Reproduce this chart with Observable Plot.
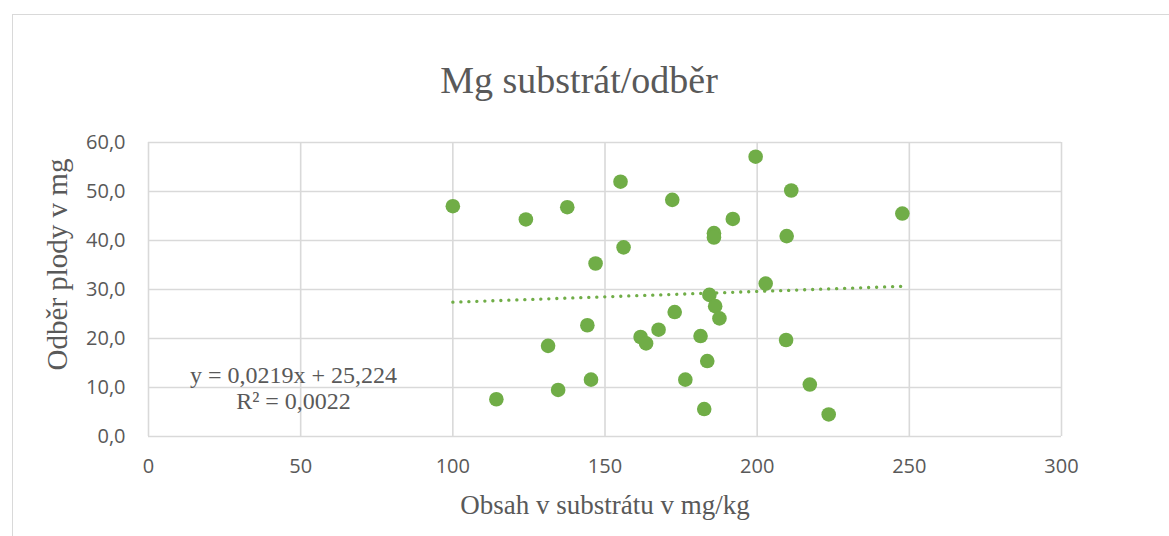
<!DOCTYPE html>
<html><head><meta charset="utf-8">
<script src="https://cdn.jsdelivr.net/npm/d3@7"></script>
<script src="https://cdn.jsdelivr.net/npm/@observablehq/plot@0.6"></script>
<style>
html,body{margin:0;padding:0;background:#fff;overflow:hidden;width:1169px;height:536px;}
#chart{position:absolute;left:0;top:0;}
#border{position:absolute;left:12px;top:14px;width:1400px;height:900px;border:1.5px solid #d9d9d9;box-sizing:border-box;pointer-events:none;}
</style></head><body>
<div id="chart"></div><div id="border"></div>
<script>
// Data
const xValues = [100.0, 114.3, 124.0, 131.3, 134.6, 137.6, 144.2, 145.4, 146.9, 155.1, 156.1, 161.7, 163.5, 167.6, 172.1, 172.9, 176.4, 181.4, 182.6, 183.6, 184.3, 185.8, 185.8, 186.2, 187.6, 192.0, 199.5, 202.8, 209.5, 209.7, 211.2, 217.3, 223.5, 247.7];
const yValues = [47.0, 7.6, 44.3, 18.5, 9.5, 46.8, 22.7, 11.6, 35.3, 52.0, 38.6, 20.3, 19.0, 21.8, 48.3, 25.4, 11.6, 20.5, 5.6, 15.4, 28.9, 41.5, 40.6, 26.6, 24.1, 44.4, 57.1, 31.2, 19.7, 40.9, 50.2, 10.6, 4.5, 45.5];
const xTicks = [0, 50, 100, 150, 200, 250, 300];
const yTicks = [0, 10, 20, 30, 40, 50, 60];
const trendCoef = [0.0219, 25.224]; // slope, intercept
const titleText = ["Mg substrát/odběr"];
const xTitle = ["Obsah v substrátu v mg/kg"];
const yTitle = ["Odběr plody v mg"];
const eqLines = ["y = 0,0219x + 25,224"];
const r2Lines = ["R² = 0,0022"];

const data = xValues.map((x, i) => ({x, y: yValues[i]}));
const trend = [d3.min(xValues), d3.max(xValues)].map(x => ({x, y: trendCoef[0] * x + trendCoef[1]}));
const fmtY = d => d.toFixed(1).replace(".", ",");
const grey = "#595959";
const serif = "'Liberation Serif', 'Times New Roman', serif";

const plot = Plot.plot({
  width: 1169, height: 536,
  marginLeft: 148, marginRight: 108, marginTop: 142, marginBottom: 100,
  style: {background: "transparent", fontFamily: "'Open Sans', sans-serif"},
  x: {domain: [0, 300]},
  y: {domain: [0, 60]},
  marks: [
    Plot.gridX(xTicks, {stroke: "#d9d9d9", strokeOpacity: 1, strokeWidth: 1.6}),
    Plot.gridY(yTicks, {stroke: "#d9d9d9", strokeOpacity: 1, strokeWidth: 1.6}),
    Plot.axisX(xTicks, {tickSize: 0, tickPadding: 22, fontSize: 20, color: grey, label: null}),
    Plot.axisY(yTicks, {tickSize: 0, tickPadding: 23, fontSize: 20, color: grey, label: null, tickFormat: fmtY}),
    Plot.line(trend, {x: "x", y: "y", stroke: "#70AD47", strokeWidth: 3.3, strokeDasharray: "0.1 7.9", strokeLinecap: "round"}),
    Plot.dot(data, {x: "x", y: "y", r: 7.3, fill: "#70AD47"}),
    Plot.text(titleText, {text: d => d, frameAnchor: "top", dx: -26, dy: -50, lineAnchor: "bottom", fontSize: 38, fontFamily: serif, fill: grey}),
    Plot.text(xTitle, {text: d => d, frameAnchor: "bottom", dx: 0, dy: 77, lineAnchor: "bottom", fontSize: 27, fontFamily: serif, fill: grey}),
    Plot.text(yTitle, {text: d => d, frameAnchor: "left", dx: -82, dy: -25, rotate: -90, textAnchor: "middle", lineAnchor: "bottom", fontSize: 29, fontFamily: serif, fill: grey}),
    Plot.text(eqLines, {text: d => d, frameAnchor: "bottom-left", dx: 145, dy: -54, lineAnchor: "bottom", textAnchor: "middle", fontSize: 24, fontFamily: serif, fill: grey}),
    Plot.text(r2Lines, {text: d => d, frameAnchor: "bottom-left", dx: 145, dy: -28, lineAnchor: "bottom", textAnchor: "middle", fontSize: 24, fontFamily: serif, fill: grey})
  ]
});
document.getElementById("chart").appendChild(plot);
</script>
</body></html>
